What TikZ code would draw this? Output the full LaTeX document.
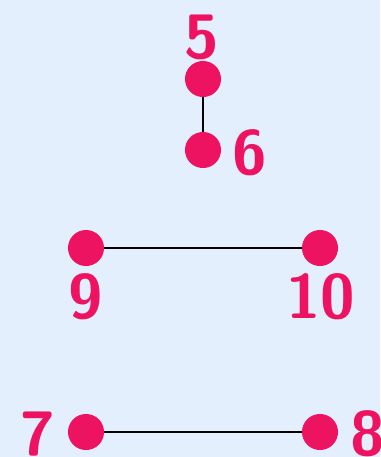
\documentclass[tikz,border=0pt]{standalone}
\usepackage{tikz}
\definecolor{bgblue}{HTML}{E3EFFD}
\definecolor{dotred}{HTML}{EE1360}
\tikzset{
    dot/.style={circle, fill=dotred, inner sep=0pt, minimum size=27},
    num/.style={text=dotred, font=\fontsize{47}{47}\selectfont\sffamily\bfseries, inner sep=0pt},
    edge/.style={line width=1.4pt, black}
}
\begin{document}
\begin{tikzpicture}[x=0.02632cm, y=-0.02632cm]
    \fill[bgblue] (0,0) rectangle (380,457);
    \useasboundingbox (0,0) rectangle (380,457);

    \node[dot] (d5) at (203,79) {};
    \node[dot] (d6) at (203,150) {};
    \node[num] (l5) at (202,37) {5};
    \node[num] (l6) at (250,153) {6};
    \draw[edge] (d5) -- (d6);

    \node[dot] (d9) at (86,248) {};
    \node[dot] (d10) at (320,248) {};
    \node[num] (l9) at (86,297) {9};
    \node[num] (l10) at (321,297) {10};
    \draw[edge] (d9) -- (d10);

    \node[dot] (d7) at (86,432) {};
    \node[dot] (d8) at (320,432) {};
    \node[num] (l7) at (38,434) {7};
    \node[num] (l8) at (368,434) {8};
    \draw[edge] (d7) -- (d8);
\end{tikzpicture}
\end{document}
